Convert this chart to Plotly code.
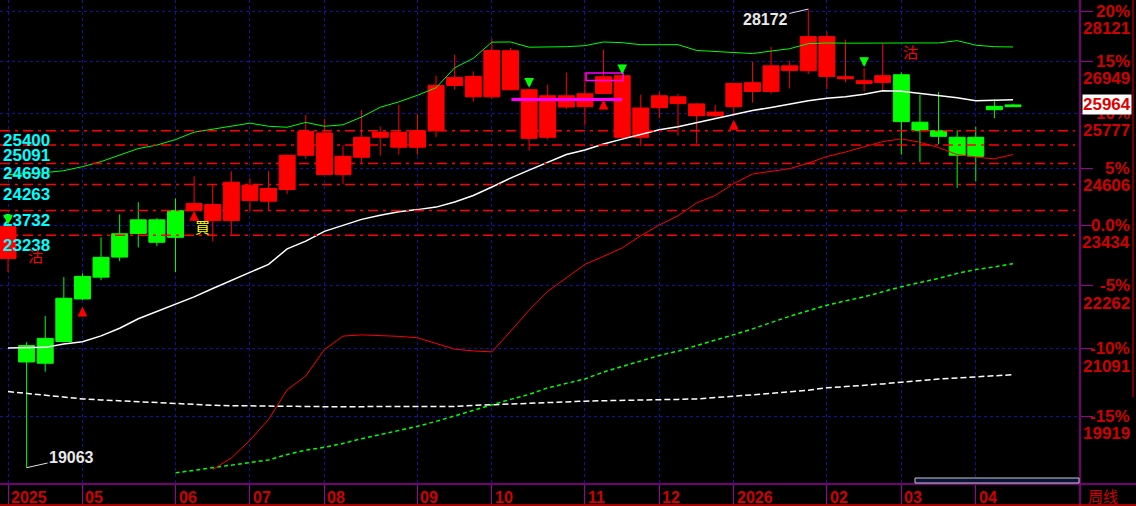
import math
import plotly.graph_objects as go

# ---------------- data ----------------
week_idx = list(range(55))
opens = [22783, 21152, 20837, 21226, 22009, 22422, 22808, 23272, 23543, 23195,
         23734, 23851, 23529, 24248, 23920, 24160, 24874, 25351, 24468, 24832,
         25258, 25364, 25045, 25400, 26399, 26602, 26144, 27190, 26302, 25258,
         26167, 25926, 26219, 26618, 25258, 25903, 26144, 25987, 25726, 25926,
         26460, 26264, 26843, 26730, 27519, 26595, 26505, 26467, 26640, 25585,
         25400, 25258, 24853, 25858, 25926]
highs = [23430, 21213, 21694, 22422, 22494, 23195, 23652, 23899, 23578, 23975,
         24433, 24263, 24536, 24386, 24536, 24889, 25741, 25656, 25087, 25851,
         25492, 25964, 25762, 26618, 27097, 26715, 27465, 27254, 26325, 26415,
         26692, 26692, 27214, 26629, 26189, 26256, 26212, 26001, 25964, 26448,
         26933, 27277, 26956, 28172, 27636, 27448, 26791, 27362, 26692, 26189,
         26250, 25407, 25485, 26088, 25990]
lows = [22519, 19063, 20686, 21208, 21994, 22364, 22731, 22996, 23021, 22519,
        23720, 23117, 23247, 23714, 23749, 24071, 24798, 24458, 24277, 24713,
        24868, 24889, 24889, 25266, 26302, 26038, 26099, 26291, 24974, 25209,
        25874, 25513, 26212, 25230, 25066, 25677, 25294, 25123, 25692, 25720,
        26016, 26212, 26331, 26656, 26318, 26467, 26264, 26264, 24889, 24726,
        25109, 24195, 24331, 25671, 25918]
closes = [23407, 20859, 21282, 22022, 22436, 22803, 23266, 23543, 23098, 23728,
          23872, 23529, 24310, 23934, 24180, 24874, 25385, 24468, 24853, 25258,
          25364, 25045, 25400, 26399, 26579, 26144, 27197, 26302, 25236, 26167,
          25919, 26212, 26595, 25258, 25896, 26167, 25993, 25726, 25806, 26444,
          26264, 26843, 26737, 27519, 26602, 26550, 26444, 26618, 25598, 25400,
          25279, 24874, 25258, 25932, 25964]
# signal regime of each weekly candle: R = after buy signal, G = after sell signal
signal_state = ["R"] + ["G"] * 9 + ["R"] * 38 + ["G"] * 7

upper_line = [24468, 24483, 24509, 24550, 24634, 24740, 24879, 25017, 25091, 25209,
              25368, 25432, 25507, 25564, 25496, 25475, 25581, 25496, 25528, 25698,
              25912, 26032, 26178, 26347, 26798, 27015, 27390, 27394, 27272, 27277,
              27284, 27308, 27394, 27378, 27331, 27331, 27331, 27197, 27174, 27160,
              27125, 27183, 27237, 27355, 27371, 27366, 27371, 27366, 27371, 27371,
              27371, 27425, 27319, 27284, 27277]
mid_line = [21109, 21109, 21120, 21180, 21220, 21328, 21467, 21642, 21772, 21911,
            22049, 22207, 22358, 22507, 22667, 22967, 23121, 23314, 23440, 23553,
            23636, 23708, 23749, 23800, 23903, 24036, 24211, 24396, 24561, 24719,
            24889, 24985, 25113, 25219, 25315, 25421, 25485, 25570, 25666, 25751,
            25840, 25908, 25987, 26054, 26111, 26144, 26201, 26280, 26268, 26223,
            26178, 26122, 26054, 26065, 26077]
red_line_start = 11
red_line = [19033, 19222, 19514, 19862, 20369, 20612, 21079, 21324, 21346, 21337,
            21319, 21294, 21189, 21088, 21056, 21039, 21411, 21800, 22151, 22416,
            22667, 22822, 22986, 23227, 23440, 23625, 23886, 24037, 24283, 24479,
            24540, 24592, 24708, 24847, 24943, 25049, 25166, 25224, 25151, 25038,
            24889, 24836, 24798, 24889]
green_dash_start = 9
green_dash = [18979, 19020, 19058, 19099, 19145, 19189, 19279, 19350, 19397, 19460,
              19539, 19607, 19675, 19747, 19830, 19924, 20023, 20118, 20205, 20291,
              20404, 20482, 20560, 20681, 20779, 20885, 20975, 21053, 21148, 21245,
              21350, 21455, 21572, 21687, 21790, 21892, 21973, 22049, 22144, 22240,
              22320, 22397, 22494, 22567, 22619, 22681]
white_dash = [20340, 20309, 20265, 20239, 20213, 20196, 20179, 20161, 20143, 20127,
              20113, 20104, 20097, 20092, 20083, 20080, 20080, 20080, 20080, 20080,
              20078, 20075, 20075, 20078, 20083, 20101, 20115, 20127, 20139, 20153,
              20165, 20174, 20182, 20191, 20196, 20200, 20205, 20213, 20231, 20260,
              20283, 20303, 20335, 20364, 20404, 20426, 20447, 20473, 20502, 20534,
              20560, 20577, 20595, 20615, 20634]

support_levels = [25400, 25091, 24698, 24263, 23732, 23238]
pct_levels = [28121, 26949, 25777, 24606, 23434, 22262, 21091, 19919]
pct_labels = ["20%", "15%", "10%", "5%", "0.0%", "-5%", "-10%", "-15%"]
month_idx = [0, 4, 9, 13, 17, 22, 26, 31, 35, 39, 44, 48, 52]
month_txt = ["2025", "05", "06", "07", "08", "09", "10", "11", "12", "2026", "02", "03", "04"]

buy_arrow_idx = [4, 10, 32, 39]
buy_arrow_gap = [7, 0, 6, 4]
sell_arrow_idx = [0, 28, 33, 46]
magenta_level = 26083
magenta_span = (27.05, 33.0)
magenta_box = (31.06, 33.05, 26508, 26679)

# ---------------- layout constants ----------------
W, H = 1136, 506
PL, PR, PT, PB = 0, 56, 0, 22
PW, PH = W - PL - PR, H - PT - PB
PURPLE = "#9B009B"
GRID = "#1010A8"
AXRED = "#D00000"
FONT = "Arial, Liberation Sans, sans-serif"
CJK = "Noto Sans CJK TC, Noto Sans CJK SC, sans-serif"


def px_x(p):
    return (p - PL) / PW


def px_y(p):
    return (PH - (p - PT)) / PH


fig = go.Figure()

for st, col in [("R", "#FF0000"), ("G", "#00FF00")]:
    sel = [i for i in week_idx if signal_state[i] == st]
    fig.add_trace(go.Candlestick(
        x=sel,
        open=[opens[i] for i in sel], high=[highs[i] for i in sel],
        low=[lows[i] for i in sel], close=[closes[i] for i in sel],
        increasing=dict(line=dict(color=col, width=1), fillcolor=col),
        decreasing=dict(line=dict(color=col, width=1), fillcolor=col),
        whiskerwidth=0, showlegend=False, hoverinfo="skip"))

fig.add_trace(go.Scatter(x=week_idx, y=white_dash, mode="lines",
                         line=dict(color="#FFFFFF", width=1.5, dash="6px,3px"), hoverinfo="skip"))
fig.add_trace(go.Scatter(x=week_idx[green_dash_start:], y=green_dash, mode="lines",
                         line=dict(color="#00FF00", width=1.5, dash="4px,3px"), hoverinfo="skip"))
fig.add_trace(go.Scatter(x=week_idx[red_line_start:], y=red_line, mode="lines",
                         line=dict(color="#FF0000", width=1), hoverinfo="skip"))
fig.add_trace(go.Scatter(x=week_idx, y=mid_line, mode="lines",
                         line=dict(color="#FFFFFF", width=1.5), hoverinfo="skip"))
fig.add_trace(go.Scatter(x=week_idx, y=upper_line, mode="lines",
                         line=dict(color="#00FF00", width=1), hoverinfo="skip"))

shapes = []
for lv in support_levels:
    shapes.append(dict(type="line", xref="paper", yref="y", x0=0, x1=px_x(1075), y0=lv, y1=lv,
                       line=dict(color="#FF0000", width=1.5, dash="10px,5px,3px,5px")))
shapes.append(dict(type="line", xref="x", yref="y", x0=magenta_span[0], x1=magenta_span[1],
                   y0=magenta_level, y1=magenta_level, line=dict(color="#FF00FF", width=3)))
shapes.append(dict(type="rect", xref="x", yref="y", x0=magenta_box[0], x1=magenta_box[1],
                   y0=magenta_box[2], y1=magenta_box[3], line=dict(color="#FF00FF", width=1.5)))
# frame lines
shapes.append(dict(type="line", xref="paper", yref="paper", x0=0, x1=px_x(W), y0=0, y1=0,
                   line=dict(color=PURPLE, width=1.5)))
shapes.append(dict(type="line", xref="paper", yref="paper", x0=1, x1=1, y0=px_y(H), y1=1,
                   line=dict(color=PURPLE, width=1.5)))
shapes.append(dict(type="line", xref="paper", yref="paper", x0=0, x1=px_x(W), y0=px_y(505), y1=px_y(505),
                   line=dict(color="#E00000", width=1.5)))
shapes.append(dict(type="line", xref="paper", yref="paper", x0=px_x(1133), x1=px_x(1133), y0=px_y(397), y1=1,
                   line=dict(color="#E00000", width=1)))
shapes.append(dict(type="rect", xref="paper", yref="paper", x0=px_x(915), x1=px_x(1079),
                   y0=px_y(483), y1=px_y(478), fillcolor="#0a1438", line=dict(color="#C8C8C8", width=1)))

ann = []
# support level labels
for lv in support_levels:
    ann.append(dict(xref="paper", yref="y", x=px_x(1), y=math.log10(lv), xanchor="left", yanchor="middle",
                    yshift=-10, text=f"<b>{lv}</b>", showarrow=False,
                    font=dict(family=FONT, size=17, color="#00FFFF")))
# right axis labels
for lv, lab in zip(pct_levels, pct_labels):
    ann.append(dict(xref="paper", yref="y", x=px_x(1132), y=math.log10(lv), xanchor="right", yanchor="middle",
                    text=f"<b>{lab}</b>", showarrow=False, font=dict(family=FONT, size=17, color=AXRED)))
    ann.append(dict(xref="paper", yref="y", x=px_x(1132), y=math.log10(lv), xanchor="right", yanchor="middle",
                    yshift=-17.5, text=f"<b>{lv}</b>", showarrow=False, font=dict(family=FONT, size=17, color=AXRED)))
# month labels
for mi, mt in zip(month_idx, month_txt):
    ann.append(dict(xref="x", yref="paper", x=mi, y=0, xanchor="left", yanchor="middle", xshift=1,
                    yshift=-13, text=f"<b>{mt}</b>", showarrow=False,
                    font=dict(family=FONT, size=16, color=AXRED)))
ann.append(dict(xref="paper", yref="paper", x=px_x(1086), y=0, xanchor="left", yanchor="middle", yshift=-11,
                text="周线", showarrow=False, font=dict(family=CJK, size=15, color=AXRED)))
# current price tag
ann.append(dict(xref="paper", yref="y", x=px_x(1082), y=math.log10(closes[-1]), xanchor="left",
                yanchor="middle", text=f"<b>{closes[-1]}</b>", showarrow=False, bgcolor="#FFFFFF",
                borderpad=0, font=dict(family=FONT, size=17, color="#E00000")))
# extreme labels
hi_i = max(week_idx, key=lambda i: highs[i])
lo_i = min(week_idx, key=lambda i: lows[i])
ann.append(dict(xref="x", yref="y", x=hi_i, y=math.log10(highs[hi_i]), ax=-43, ay=10,
                text=f"<b>{highs[hi_i]}</b>", showarrow=True, arrowhead=0, arrowwidth=1,
                arrowcolor="#E0E0E0", font=dict(family=FONT, size=16, color="#E8E8E8")))
ann.append(dict(xref="x", yref="y", x=lo_i, y=math.log10(lows[lo_i]), ax=45, ay=-10,
                text=f"<b>{lows[lo_i]}</b>", showarrow=True, arrowhead=0, arrowwidth=1,
                arrowcolor="#E0E0E0", font=dict(family=FONT, size=16, color="#E8E8E8")))
# signal arrows
for i, g in zip(buy_arrow_idx, buy_arrow_gap):
    ann.append(dict(xref="x", yref="y", x=i, y=math.log10(lows[i]), yshift=-g, ax=0, ay=11, text="",
                    showarrow=True, arrowhead=2, arrowsize=0.65, arrowwidth=3, arrowcolor="#FF0000"))
for i in sell_arrow_idx:
    ann.append(dict(xref="x", yref="y", x=i, y=math.log10(highs[i]), yshift=1, ax=0, ay=-11, text="",
                    showarrow=True, arrowhead=2, arrowsize=0.65, arrowwidth=3, arrowcolor="#00FF00"))
# signal text
ann.append(dict(xref="x", yref="y", x=0, y=math.log10(lows[0]), xshift=27, yshift=17, text="沽",
                showarrow=False, font=dict(family=CJK, size=15, color="#FF0000")))
ann.append(dict(xref="x", yref="y", x=10, y=math.log10(lows[10]), xshift=8, yshift=-15, text="買",
                showarrow=False, font=dict(family=CJK, size=15, color="#FFFF00")))
ann.append(dict(xref="x", yref="y", x=48, y=math.log10(highs[48]), xshift=9, yshift=21, text="沽",
                showarrow=False, font=dict(family=CJK, size=15, color="#FF0000")))

fig.update_layout(
    width=W, height=H, autosize=False,
    margin=dict(l=PL, r=PR, t=PT, b=PB, pad=0),
    paper_bgcolor="#000000", plot_bgcolor="#000000",
    showlegend=False, hovermode=False,
    boxgap=0.14, boxgroupgap=0,
    shapes=shapes, annotations=ann,
    xaxis=dict(range=[-0.43, 57.6], rangeslider=dict(visible=False), tickmode="array",
               tickvals=month_idx, ticktext=[""] * len(month_idx), showticklabels=False,
               ticks="outside", ticklen=19, tickcolor=PURPLE, tickwidth=1,
               showgrid=True, gridcolor=GRID, griddash="dot", gridwidth=1,
               zeroline=False, showline=False, fixedrange=True),
    yaxis=dict(type="log", range=[math.log10(18800), math.log10(28391)], side="right",
               tickmode="array", tickvals=pct_levels, showticklabels=False,
               ticks="outside", ticklen=12, tickcolor=PURPLE, tickwidth=1,
               showgrid=True, gridcolor=GRID, griddash="dot", gridwidth=1,
               zeroline=False, showline=False, fixedrange=True),
)

fig.write_html("out.html", config={"displayModeBar": False},
               post_script="document.body.style.margin='0';document.body.style.background='#000';")
